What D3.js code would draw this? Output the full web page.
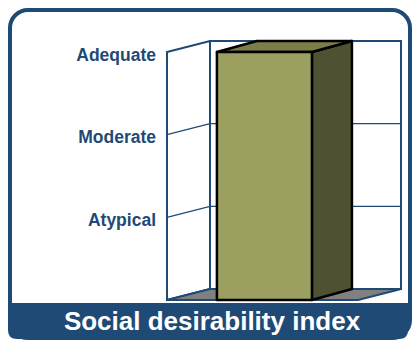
<!DOCTYPE html>
<html>
<head>
<meta charset="utf-8">
<script src="https://cdn.jsdelivr.net/npm/d3@7"></script>
<style>
  html, body { margin: 0; padding: 0; background: #ffffff; }
  svg { display: block; }
  text { font-family: "Liberation Sans", Arial, sans-serif; font-weight: bold; }
</style>
</head>
<body>
<svg id="chart" width="413" height="343"></svg>
<script>
// Chart data
const categories = ["Social desirability index"];
const values = [3];
const levelValues = [1, 2, 3];
const levelLabels = ["Atypical", "Moderate", "Adequate"];
const title = "Social desirability index";

const blue = "#1f4a75";
const svg = d3.select("#chart");

// Front plane of the 3D box and its depth offset
const plot = { left: 167, right: 358, top: 52, bottom: 300 };
const depth = { dx: 43, dy: -11 };
const barDepth = { dx: 40, dy: -11 };

const y = d3.scaleLinear().domain([0, 3]).range([plot.bottom, plot.top]);
const x = d3.scaleBand().domain(categories)
  .range([plot.left, plot.right])
  .paddingInner(0).paddingOuter(0.505).align(0.52);

const line = d3.line();

// Outer frame
svg.append("rect")
  .attr("x", 10).attr("y", 10).attr("width", 400).attr("height", 328)
  .attr("rx", 18).attr("ry", 18)
  .attr("fill", "#ffffff").attr("stroke", blue).attr("stroke-width", 4);

// Left wall
const yMax = y(3), yMin = y(0);
svg.append("path")
  .attr("d", line([[plot.left, yMax], [plot.left + depth.dx, yMax + depth.dy],
                   [plot.left + depth.dx, yMin + depth.dy], [plot.left, yMin]]) + "Z")
  .attr("fill", "#ffffff").attr("stroke", blue).attr("stroke-width", 2);

// Back wall
const bx0 = plot.left + depth.dx, bx1 = plot.right + depth.dx;
svg.append("path")
  .attr("d", line([[bx0, yMax + depth.dy], [bx1, yMax + depth.dy],
                   [bx1, yMin + depth.dy], [bx0, yMin + depth.dy]]) + "Z")
  .attr("fill", "#ffffff").attr("stroke", blue).attr("stroke-width", 2);

// Gridlines on both walls
levelValues.filter(v => v < 3).forEach(v => {
  const gy = y(v);
  svg.append("path")
    .attr("d", line([[plot.left, gy], [bx0, gy + depth.dy], [bx1, gy + depth.dy]]))
    .attr("fill", "none").attr("stroke", blue).attr("stroke-width", 1.2);
});

// Floor
svg.append("path")
  .attr("d", line([[plot.left, yMin], [plot.right, yMin],
                   [bx1, yMin + depth.dy], [bx0, yMin + depth.dy]]) + "Z")
  .attr("fill", "#808080").attr("stroke", blue).attr("stroke-width", 2);

// Level labels
svg.append("g").selectAll("text")
  .data(levelValues)
  .join("text")
  .attr("x", 156)
  .attr("y", (d) => y(d) + 4)
  .attr("text-anchor", "end")
  .attr("dominant-baseline", "middle")
  .attr("font-size", 17.5)
  .attr("fill", blue)
  .text((d, i) => levelLabels[i]);

// 3D bar
const bars = svg.append("g");
categories.forEach((c, i) => {
  const x0 = x(c), x1 = x0 + x.bandwidth();
  const yt = y(values[i]), yb = y(0);
  const dx = barDepth.dx, dy = barDepth.dy;
  const style = (sel, fill) => sel.attr("fill", fill).attr("stroke", "#000")
    .attr("stroke-width", 2.5).attr("stroke-linejoin", "round");
  // right side
  style(bars.append("path")
    .attr("d", line([[x1, yt], [x1 + dx, yt + dy], [x1 + dx, yb + dy], [x1, yb]]) + "Z"), "#4f5232");
  // top
  style(bars.append("path")
    .attr("d", line([[x0, yt], [x0 + dx, yt + dy], [x1 + dx, yt + dy], [x1, yt]]) + "Z"), "#7b7e48");
  // front
  style(bars.append("path")
    .attr("d", line([[x0, yt], [x1, yt], [x1, yb], [x0, yb]]) + "Z"), "#9b9f5f");
});

// Title band
svg.append("path")
  .attr("d", "M8,303 H408 V330 Q408,339 399,339 H17 Q8,339 8,330 Z")
  .attr("fill", blue);
svg.append("text")
  .attr("x", 212).attr("y", 330)
  .attr("text-anchor", "middle")
  .attr("font-size", 26)
  .attr("fill", "#ffffff")
  .text(title);
</script>
</body>
</html>
